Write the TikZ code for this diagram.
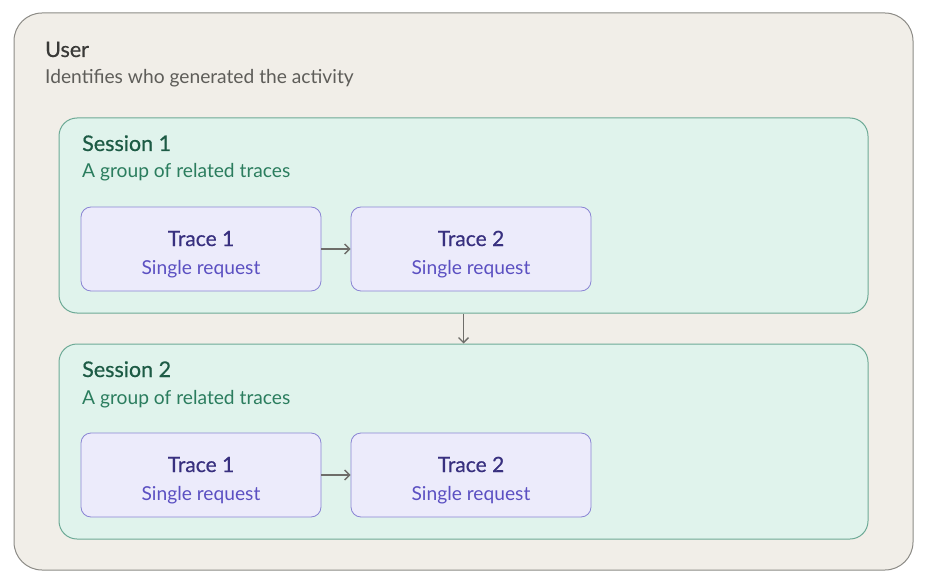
\documentclass[tikz,border=0pt]{standalone}
\usepackage{fontspec}
\setmainfont{Lato}
\newfontfamily\headfont[FakeBold=0.6]{Lato}
\usetikzlibrary{arrows.meta}
\definecolor{userfill}{HTML}{F1EEE8}
\definecolor{userline}{HTML}{8C8B86}
\definecolor{userhead}{HTML}{3A3A38}
\definecolor{usertext}{HTML}{5E5D59}
\definecolor{sessfill}{HTML}{E0F3EC}
\definecolor{sessline}{HTML}{6DAA96}
\definecolor{sesshead}{HTML}{1D5B45}
\definecolor{sesstext}{HTML}{2B7D5E}
\definecolor{tracefill}{HTML}{ECEBFB}
\definecolor{traceline}{HTML}{8A85D4}
\definecolor{tracehead}{HTML}{38307F}
\definecolor{tracetext}{HTML}{5B50C2}
\definecolor{flow}{HTML}{6E6D69}
\begin{document}
\begin{tikzpicture}[x=1pt, y=-1pt,
      userbox/.style={draw=userline, fill=userfill, line width=1pt, rounded corners=28pt,
        minimum width=899pt, minimum height=557pt, inner sep=0pt},
      sessbox/.style={draw=sessline, fill=sessfill, line width=1pt, rounded corners=18pt,
        minimum width=809pt, minimum height=195pt, inner sep=0pt},
      tracebox/.style={draw=traceline, fill=tracefill, line width=0.8pt, rounded corners=10pt,
        minimum width=240pt, minimum height=84pt, inner sep=0pt},
      head/.style={anchor=base west, inner sep=0pt, font=\headfont\fontsize{21.5}{24}\selectfont},
      sub/.style={anchor=base west, inner sep=0pt, font=\fontsize{19.2}{22}\selectfont},
      thead/.style={anchor=base, inner sep=0pt, text=tracehead, font=\headfont\fontsize{21}{24}\selectfont},
      tsub/.style={anchor=base, inner sep=0pt, text=tracetext, font=\fontsize{19.2}{22}\selectfont},
      link/.style={draw=flow, line width=1.4pt, -{Straight Barb[length=5pt, width=10pt]}}]
    \useasboundingbox (0,0) rectangle (928,588);
    % outer user frame
    \node[userbox] (user) at (463.5,291.5) {};
    \node[head, text=userhead] (usertitle) at (45,57) {User};
    \node[sub, text=usertext] (userdesc) at (45,84) {Identifies who generated the activity};
    % sessions
    \foreach \s/\y in {1/0, 2/226} {
      \begin{scope}[yshift=-\y pt]
        \node[sessbox] (sess\s) at (463.5,215.5) {};
        \node[head, text=sesshead] (sesstitle\s) at (82,151) {Session \s};
        \node[sub, text=sesstext] (sessdesc\s) at (82,178) {A group of related traces};
        \node[tracebox] (trace\s a) at (201,249) {};
        \node[tracebox] (trace\s b) at (471,249) {};
        \node[thead] (tracetitle\s a) at (201,246) {Trace 1};
        \node[tsub] (tracedesc\s a) at (201,274) {Single request};
        \node[thead] (tracetitle\s b) at (471,246) {Trace 2};
        \node[tsub] (tracedesc\s b) at (471,274) {Single request};
      \end{scope}
      \draw[link] (trace\s a.east) -- (trace\s b.west);
    }
    \draw[link] (sess1.south) -- (sess2.north);
  \end{tikzpicture}
\end{document}
